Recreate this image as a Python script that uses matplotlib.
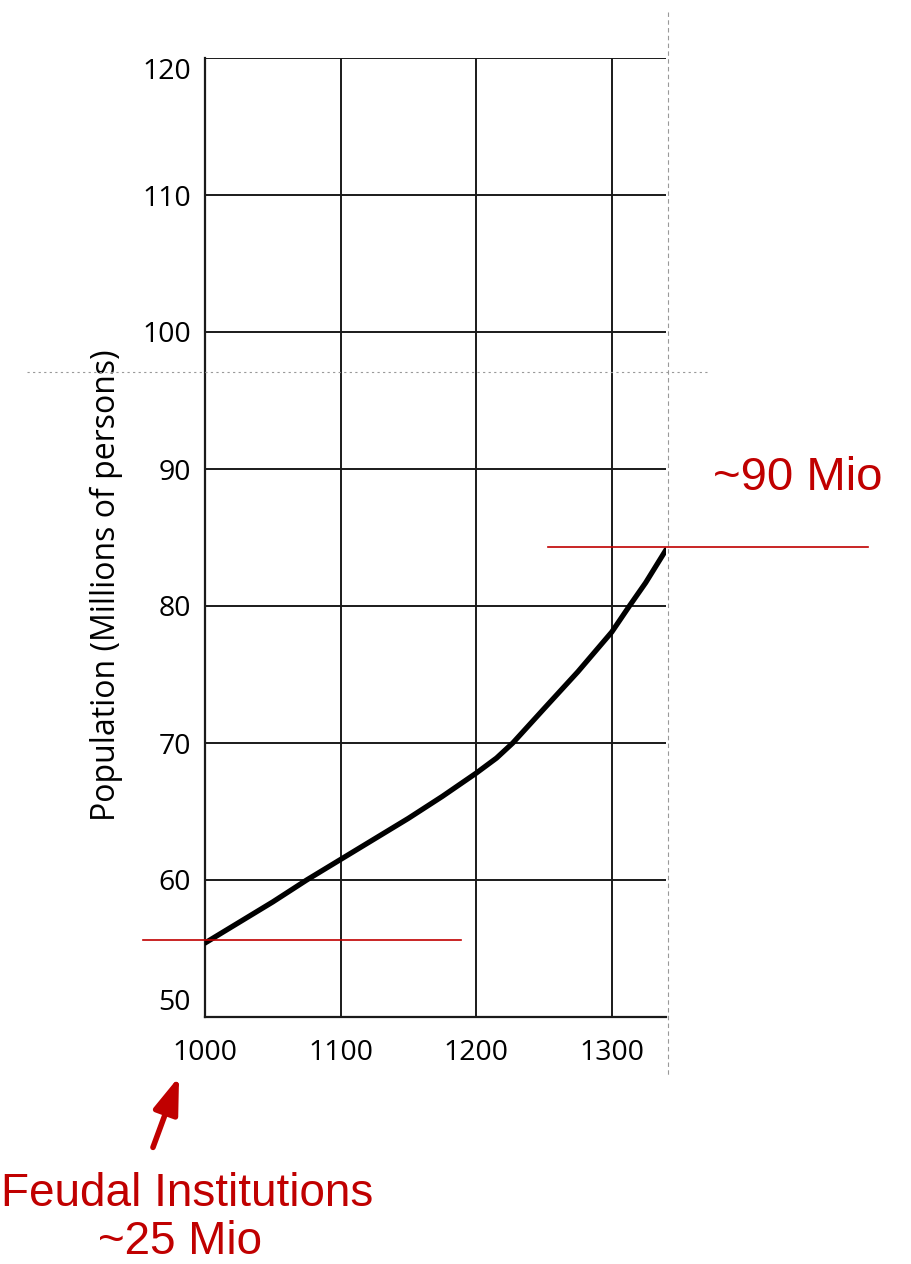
import matplotlib
matplotlib.use("Agg")
import matplotlib.pyplot as plt
from matplotlib.lines import Line2D
from matplotlib.patches import FancyArrowPatch

# population curve (millions)
years = [1000, 1025, 1050, 1075, 1100, 1125, 1150, 1175, 1200, 1215, 1227,
         1250, 1275, 1300, 1313, 1325, 1340]
population = [55.4, 56.9, 58.4, 60.0, 61.5, 63.0, 64.5, 66.1, 67.8, 68.9, 70.0,
              72.5, 75.2, 78.1, 80.0, 81.7, 84.1]

x_ticks = [1000, 1100, 1200, 1300]
y_ticks = [50, 60, 70, 80, 90, 100, 110, 120]

# red marker lines (data units)
start_level = 55.6
start_span = (954, 1189)
end_level = 84.3
end_span = (1253, 1489)

RED = "#C00000"
W, H = 911, 1264

fig = plt.figure(figsize=(W / 100, H / 100), dpi=100)
ax = fig.add_axes([205 / W, 1 - 1017 / H, (666 - 205) / W, (1017 - 58) / H])

ax.plot(years, population, color="black", lw=3.8, solid_capstyle="round",
        solid_joinstyle="round", zorder=5)

ax.set_xlim(1000, 1340)
ax.set_ylim(50, 120)
ax.set_xticks(x_ticks)
ax.set_yticks(y_ticks)
ax.grid(True, color="#1a1a1a", lw=1.4)
ax.set_axisbelow(True)
for s in ["top", "right"]:
    ax.spines[s].set_visible(False)
for s in ["left", "bottom"]:
    ax.spines[s].set_linewidth(1.6)
    ax.spines[s].set_color("#1a1a1a")

ax.tick_params(axis="both", length=0, labelsize=20.5)
ax.tick_params(axis="x", pad=16)
ax.tick_params(axis="y", pad=10)
for lab in ax.get_xticklabels() + ax.get_yticklabels():
    lab.set_family("Open Sans")
ylabs = ax.get_yticklabels()
ylabs[0].set_va("bottom")
ylabs[-1].set_va("top")

ax.set_ylabel("Population (Millions of persons)", fontsize=23, family="Open Sans")
ax.yaxis.set_label_coords(-0.178, 0.45)

# red horizontal markers
ax.plot(start_span, [start_level, start_level], color=RED, lw=1.2, clip_on=False, zorder=6)
ax.plot(end_span, [end_level, end_level], color=RED, lw=1.2, clip_on=False, zorder=6)

# slide guide lines
fig.add_artist(Line2D([668 / W, 668 / W], [1 - 12 / H, 1 - 1075 / H], color="#999999",
                      lw=0.8, ls=(0, (4, 3)), transform=fig.transFigure))
fig.add_artist(Line2D([27 / W, 708 / W], [1 - 372 / H, 1 - 372 / H], color="#999999",
                      lw=0.8, ls=(0, (2, 3)), transform=fig.transFigure))

# annotations
fig.text(713 / W, 1 - 490 / H, "~90 Mio", color=RED, fontsize=34,
         family="Liberation Sans", ha="left", va="baseline")
fig.text(187 / W, 1 - 1206 / H, "Feudal Institutions", color=RED, fontsize=33,
         family="Liberation Sans", ha="center", va="baseline")
fig.text(180 / W, 1 - 1254 / H, "~25 Mio", color=RED, fontsize=33,
         family="Liberation Sans", ha="center", va="baseline")
fig.add_artist(FancyArrowPatch(
    (152 / W, 1 - 1150 / H), (180 / W, 1 - 1074 / H), transform=fig.transFigure,
    arrowstyle="-|>,head_length=1.1,head_width=0.38", mutation_scale=20,
    color=RED, lw=4))

fig.savefig("out.png", dpi=100)
